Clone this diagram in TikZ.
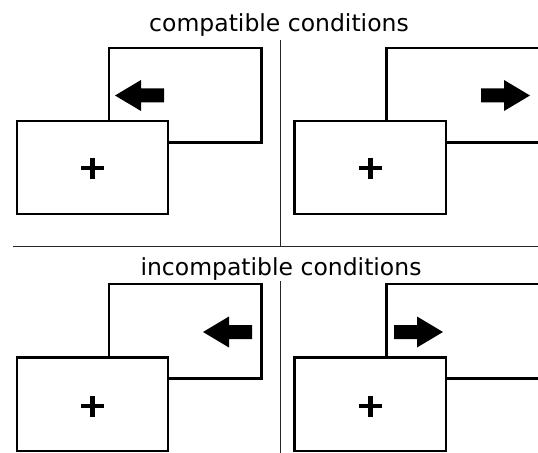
\documentclass[tikz,border=0pt]{standalone}
\usepackage{fontspec}
\setmainfont{DejaVu Sans}
\begin{document}
\begin{tikzpicture}[x=1bp,y=-1bp]
\tikzset{
  screen/.style={draw=black,fill=white,line width=2.8bp},
  divider/.style={draw=black!85,line width=1.2bp},
  title/.style={font=\fontsize{23.5bp}{28bp}\selectfont,anchor=base,inner sep=0pt},
  cross/.style={line width=4.5bp},
  larrow/.pic={\fill[black] (0,-7)--(-23,-7)--(-23,-15.5)--(-49,0)--(-23,15.5)--(-23,7)--(0,7)--cycle;},
  rarrow/.pic={\fill[black] (0,-7)--(23,-7)--(23,-15.5)--(49,0)--(23,15.5)--(23,7)--(0,7)--cycle;}
}
\useasboundingbox (0,0) rectangle (538,453);
\clip (0,0) rectangle (538,453);
% titles
\node[title] (t1) at (279,31.5) {compatible conditions};
\node[title] (t2) at (281,275.5) {incompatible conditions};
% dividers
\coordinate (h1) at (13,246.5);
\coordinate (h2) at (538,246.5);
\draw[divider] (h1) -- (h2);
\coordinate (v1) at (280.5,40);
\coordinate (v2) at (280.5,246);
\coordinate (v3) at (280.5,281);
\coordinate (v4) at (280.5,453);
\draw[divider] (v1) -- (v2);
\draw[divider] (v3) -- (v4);
% top-left
\draw[screen] (109,48) rectangle (261.5,142.5);
\draw[screen] (17,121) rectangle (168,214);
\draw[cross] (81,168) -- (104,168) (92.5,158) -- (92.5,179);
\pic at (164,95.5) {larrow};
% top-right
\draw[screen] (386.5,48) rectangle (540,142.5);
\draw[screen] (294.5,121) rectangle (446,214);
\draw[cross] (359,168) -- (382,168) (370.5,158) -- (370.5,179);
\pic at (481,95.5) {rarrow};
% bottom-left
\draw[screen] (109,284) rectangle (261.5,378.5);
\draw[screen] (17,357.5) rectangle (168,451);
\draw[cross] (81,406) -- (104,406) (92.5,396) -- (92.5,417);
\pic at (252,332) {larrow};
% bottom-right
\draw[screen] (386.5,284) rectangle (540,378.5);
\draw[screen] (294.5,357.5) rectangle (446,451);
\draw[cross] (359,406) -- (382,406) (370.5,396) -- (370.5,417);
\pic at (394,332) {rarrow};
\end{tikzpicture}
\end{document}
